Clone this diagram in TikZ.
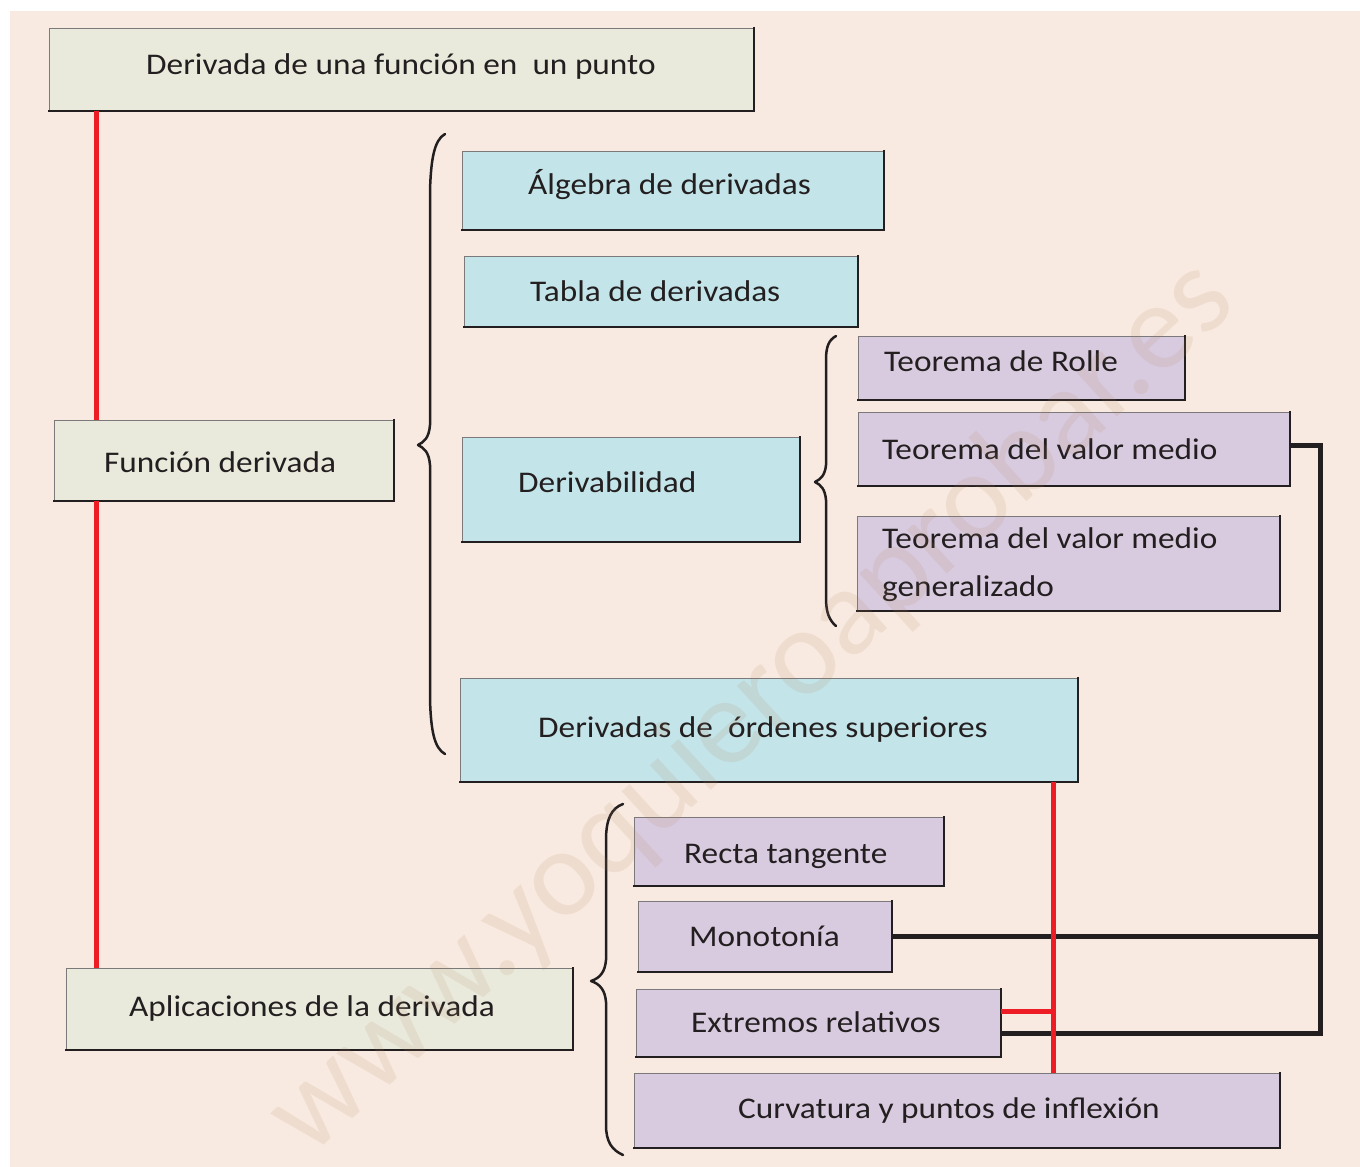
\documentclass[tikz,border=0pt]{standalone}
\usepackage{fontspec}
\setmainfont[FakeStretch=1.11]{Carlito}
\newfontfamily\wmfont{Carlito}
\usetikzlibrary{calc}
\definecolor{bgpeach}{HTML}{F8EAE0}
\definecolor{gbox}{HTML}{E9EADB}
\definecolor{bbox}{HTML}{C3E4E8}
\definecolor{pbox}{HTML}{D9CBDF}
\definecolor{redc}{HTML}{EE1C25}
\definecolor{ink}{HTML}{231F20}
\definecolor{wmark}{HTML}{B08060}
\tikzset{
  box/.style={draw=ink!60, line width=1pt, inner sep=0pt, minimum width=#1},
  txt/.style={anchor=base west, inner sep=0pt, text=ink, font=\fontsize{30}{36}\selectfont},
  shade line/.style={draw=ink, line width=2pt, line cap=rect},
  redline/.style={draw=redc, line width=5pt},
  blkline/.style={draw=ink, line width=5pt},
  bracestyle/.style={draw=ink, line width=2.5pt, line cap=round, line join=round},
}
\begin{document}
\begin{tikzpicture}[x=1pt,y=-1pt]
\useasboundingbox (0,0) rectangle (1360,1167);
\fill[white] (0,0) rectangle (1360,1167);
\fill[bgpeach] (10,11) rectangle (1360,1167);

% boxes
\node[box=704pt, minimum height=82pt, fill=gbox] (b1) at (401,69) {};
\node[box=339pt, minimum height=80pt, fill=gbox] (fd) at (223.5,460) {};
\node[box=506pt, minimum height=81pt, fill=gbox] (ap) at (319,1008.5) {};
\node[box=421pt, minimum height=78pt, fill=bbox] (alg) at (672.5,190) {};
\node[box=393pt, minimum height=70pt, fill=bbox] (tab) at (660.5,291) {};
\node[box=337pt, minimum height=104pt, fill=bbox] (der) at (630.5,489) {};
\node[box=326pt, minimum height=63pt, fill=pbox] (rol) at (1021,367.5) {};
\node[box=431pt, minimum height=73pt, fill=pbox] (tvm) at (1073.5,448.5) {};
\node[box=422pt, minimum height=94pt, fill=pbox] (tvmg) at (1068,563) {};
\node[box=617pt, minimum height=103pt, fill=bbox] (dos) at (768.5,729.5) {};
\node[box=309pt, minimum height=68pt, fill=pbox] (rec) at (788.5,851) {};
\node[box=253pt, minimum height=70pt, fill=pbox] (mon) at (764.5,936) {};
\node[box=364pt, minimum height=67pt, fill=pbox] (ext) at (818,1022.5) {};
\node[box=645pt, minimum height=74pt, fill=pbox] (cur) at (956.5,1110) {};

\foreach \n in {b1,fd,ap,alg,tab,der,rol,tvm,tvmg,dos,rec,mon,ext,cur}
  \draw[shade line] (\n.south west) -- (\n.south east) -- (\n.north east);

% texts
\node[txt] (tb1) at (146,74) {Derivada de una función en\ \ un punto};
\node[txt] (tfd) at (104,472) {Función derivada};
\node[txt] (tap) at (129,1016) {Aplicaciones de la derivada};
\node[txt] (talg) at (528,194) {Álgebra de derivadas};
\node[txt] (ttab) at (530,301) {Tabla de derivadas};
\node[txt] (tder) at (518,492) {Derivabilidad};
\node[txt] (trol) at (884,371) {Teorema de Rolle};
\node[txt] (ttvm) at (882,459) {Teorema del valor medio};
\node[txt] (ttvmg1) at (882,548) {Teorema del valor medio};
\node[txt] (ttvmg2) at (882,596) {generalizado};
\node[txt] (tdos) at (538,737) {Derivadas de\ \ órdenes superiores};
\node[txt] (trec) at (684,863) {Recta tangente};
\node[txt] (tmon) at (689,946) {Monotonía};
\node[txt] (text) at (691,1032) {Extremos relativos};
\node[txt] (tcur) at (738,1118) {Curvatura y puntos de inflexión};

% helper coordinates
\coordinate (rxa) at (96,0);
\coordinate (rxb) at (1053,0);
\coordinate (ry) at (0,1011);
\coordinate (bx) at (1320,0);
\coordinate (by) at (0,1033);
\coordinate (tvy) at (0,445);

% black connectors
\draw[blkline] (tvm.east |- tvy) -- (bx |- tvy) -- (bx |- by) -- (ext.east |- by);
\draw[blkline] (mon.east) -- (mon.east -| bx);

% red connectors
\draw[redline] (b1.south -| rxa) -- (fd.north -| rxa);
\draw[redline] (fd.south -| rxa) -- (ap.north -| rxa);
\draw[redline] (dos.south -| rxb) -- (cur.north -| rxb);
\draw[redline] (ext.east |- ry) -- (rxb |- ry);

% braces
\draw[bracestyle] (445,134) .. controls (434,140) and (431,160) .. (430,190)
  -- (430,425) .. controls (429,438) and (424,442) .. (418,445)
  .. controls (424,448) and (429,452) .. (430,465)
  -- (430,700) .. controls (431,730) and (434,748) .. (445,754);
\draw[bracestyle] (836,336) .. controls (829,340) and (826,346) .. (826,360)
  -- (826,465) .. controls (825,475) and (821,479) .. (815,482)
  .. controls (821,485) and (825,489) .. (826,500)
  -- (826,598) .. controls (826,612) and (829,620) .. (836,626);
\draw[bracestyle] (623,804) .. controls (612,808) and (606,818) .. (606,840)
  -- (606,960) .. controls (605,972) and (600,978) .. (591,981)
  .. controls (600,984) and (605,990) .. (606,1002)
  -- (606,1125) .. controls (606,1142) and (612,1150) .. (623,1155);

% watermark
\node[rotate=42.5, text=wmark, text opacity=0.13, font=\wmfont\fontsize{124}{124}\selectfont, inner sep=0pt] (wm) at (752,708) {www.yoquieroaprobar.es};
\end{tikzpicture}
\end{document}
